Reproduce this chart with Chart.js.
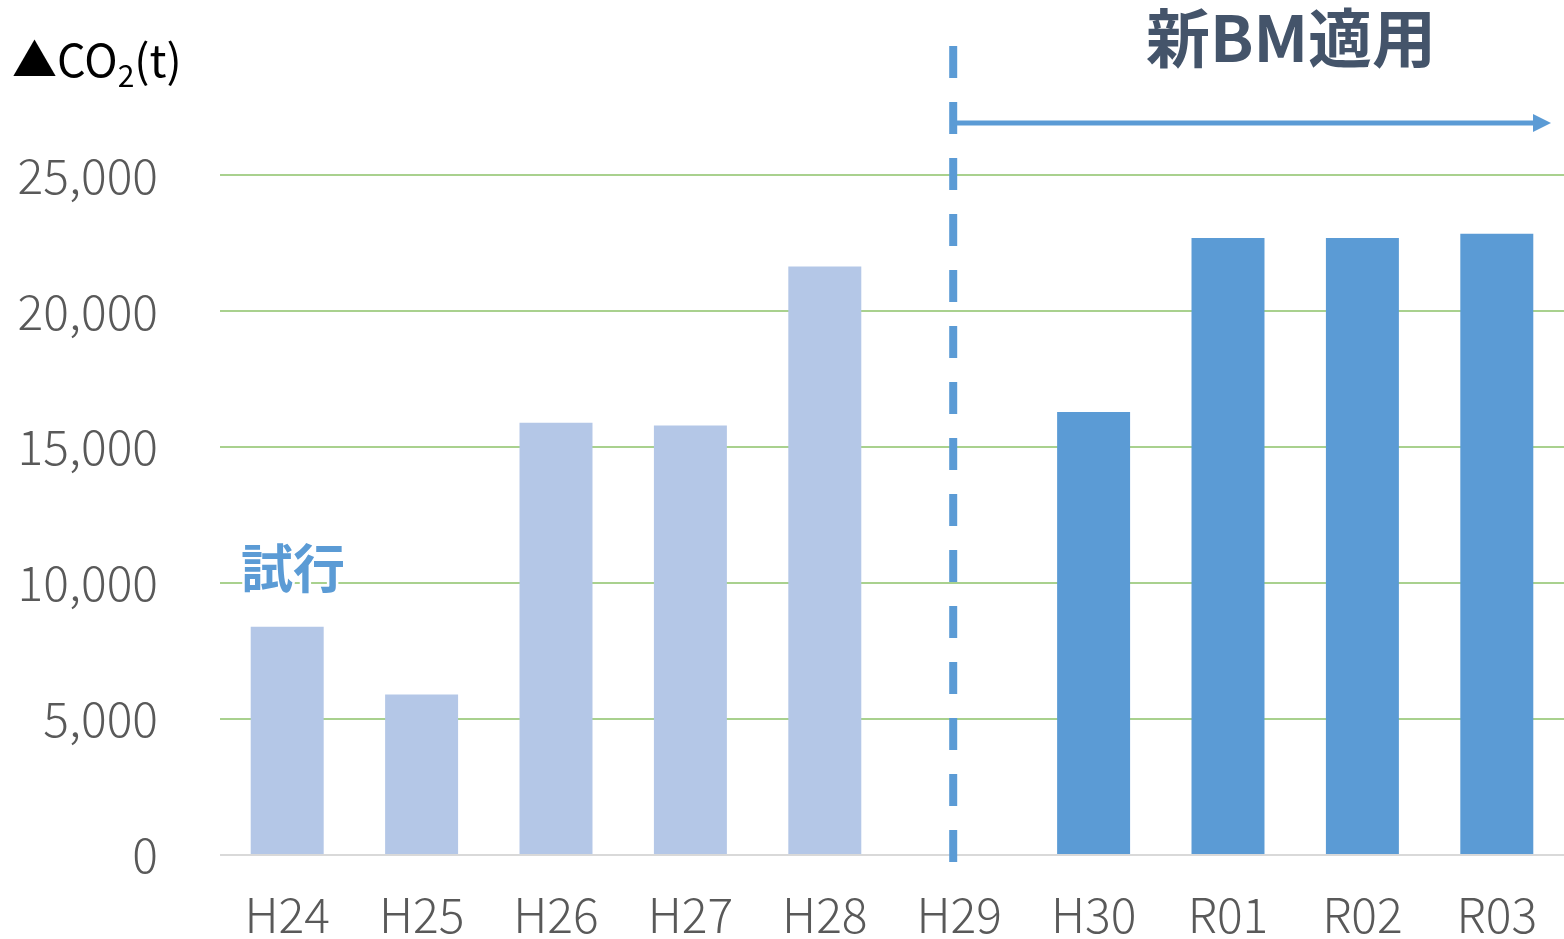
<!DOCTYPE html>
<html>
<head>
<meta charset="utf-8">
<script src="https://cdn.jsdelivr.net/npm/chart.js@4/dist/chart.umd.min.js"></script>
<style>
html,body{margin:0;padding:0;background:#fff;}
#wrap{width:1564px;height:939px;position:relative;}
</style>
</head>
<body>
<div id="wrap"><canvas id="c" width="1564" height="939"></canvas></div>
<script>
const categories = ['H24','H25','H26','H27','H28','H29','H30','R01','R02','R03'];
const values = [8400, 5900, 15900, 15800, 21650, null, 16300, 22700, 22700, 22850];
const yTickValues = [0, 5000, 10000, 15000, 20000, 25000];
const unitLabel = ['▲CO', '2', '(t)'];
const trialLabel = '試行';
const newBMLabel = '新BM適用';
const trialCount = 6; // first six years drawn in the light colour

const LIGHT = '#B4C7E7', DARK = '#5B9BD5';
const TICK_FONT = '"Noto Sans CJK JP", "Noto Sans", sans-serif';

const annot = {
  id: 'annot',
  afterDatasetsDraw(chart) {
    const ctx = chart.ctx;
    const x = chart.scales.x;
    ctx.save();
    // dashed vertical separator at H29
    const sx = x.getPixelForValue(5) - 6;
    ctx.strokeStyle = DARK;
    ctx.lineWidth = 8;
    ctx.setLineDash([32, 24]);
    ctx.beginPath();
    ctx.moveTo(sx, 46);
    ctx.lineTo(sx, 862);
    ctx.stroke();
    ctx.setLineDash([]);
    // arrow
    const ay = 123;
    ctx.lineWidth = 5;
    ctx.beginPath();
    ctx.moveTo(sx - 3, ay);
    ctx.lineTo(1535, ay);
    ctx.stroke();
    ctx.fillStyle = DARK;
    ctx.beginPath();
    ctx.moveTo(1533, ay - 9);
    ctx.lineTo(1551, ay);
    ctx.lineTo(1533, ay + 9);
    ctx.closePath();
    ctx.fill();
    // 新BM適用
    ctx.fillStyle = '#44546A';
    ctx.font = 'bold 64px "Noto Sans CJK JP", sans-serif';
    ctx.textAlign = 'center';
    ctx.textBaseline = 'middle';
    ctx.fillText(newBMLabel, 1291, 38);
    // 試行
    ctx.font = 'bold 52px "Noto Sans CJK JP", sans-serif';
    ctx.lineWidth = 5;
    ctx.strokeStyle = '#ffffff';
    ctx.lineJoin = 'round';
    ctx.strokeText(trialLabel, 293, 568);
    ctx.fillStyle = DARK;
    ctx.fillText(trialLabel, 293, 568);
    // unit label
    ctx.textAlign = 'left';
    ctx.textBaseline = 'alphabetic';
    ctx.fillStyle = '#000000';
    ctx.font = '45px "Noto Sans CJK JP", sans-serif';
    let px = 12;
    ctx.fillText(unitLabel[0], px, 77);
    px += ctx.measureText(unitLabel[0]).width;
    ctx.font = '30px "Noto Sans CJK JP", sans-serif';
    ctx.fillText(unitLabel[1], px, 87);
    px += ctx.measureText(unitLabel[1]).width;
    ctx.font = '45px "Noto Sans CJK JP", sans-serif';
    ctx.fillText(unitLabel[2], px, 77);
    ctx.restore();
  }
};

new Chart(document.getElementById('c'), {
  type: 'bar',
  data: {
    labels: categories,
    datasets: [{
      data: values,
      backgroundColor: values.map((v, i) => i < trialCount ? LIGHT : DARK),
      barPercentage: 0.543,
      categoryPercentage: 1.0,
      borderWidth: 0
    }]
  },
  options: {
    responsive: false,
    animation: false,
    layout: { padding: { top: 121, left: 0, right: 0, bottom: 0 } },
    plugins: { legend: { display: false }, tooltip: { enabled: false } },
    scales: {
      x: {
        grid: { display: false, drawTicks: false },
        border: { display: false },
        afterFit(scale) { scale.height = 84; scale.paddingLeft = 0; scale.paddingRight = 0; },
        ticks: {
          color: '#595959',
          padding: 31,
          maxRotation: 0,
          minRotation: 0,
          font: { family: TICK_FONT, size: 48, weight: 300 }
        }
      },
      y: {
        min: 0,
        max: 27000,
        afterBuildTicks(scale) {
          scale.ticks = yTickValues.map(v => ({ value: v }));
        },
        afterFit(scale) { scale.width = 220; scale.paddingTop = 0; scale.paddingBottom = 0; },
        border: { display: false },
        grid: {
          drawTicks: false,
          lineWidth: 2,
          color: ctx => (ctx.tick && ctx.tick.value === 0) ? '#D9D9D9' : '#A9D18E'
        },
        ticks: {
          color: '#595959',
          padding: 62,
          font: { family: TICK_FONT, size: 48, weight: 300 },
          callback: v => v.toLocaleString('en-US')
        }
      }
    }
  },
  plugins: [annot]
});
</script>
</body>
</html>
